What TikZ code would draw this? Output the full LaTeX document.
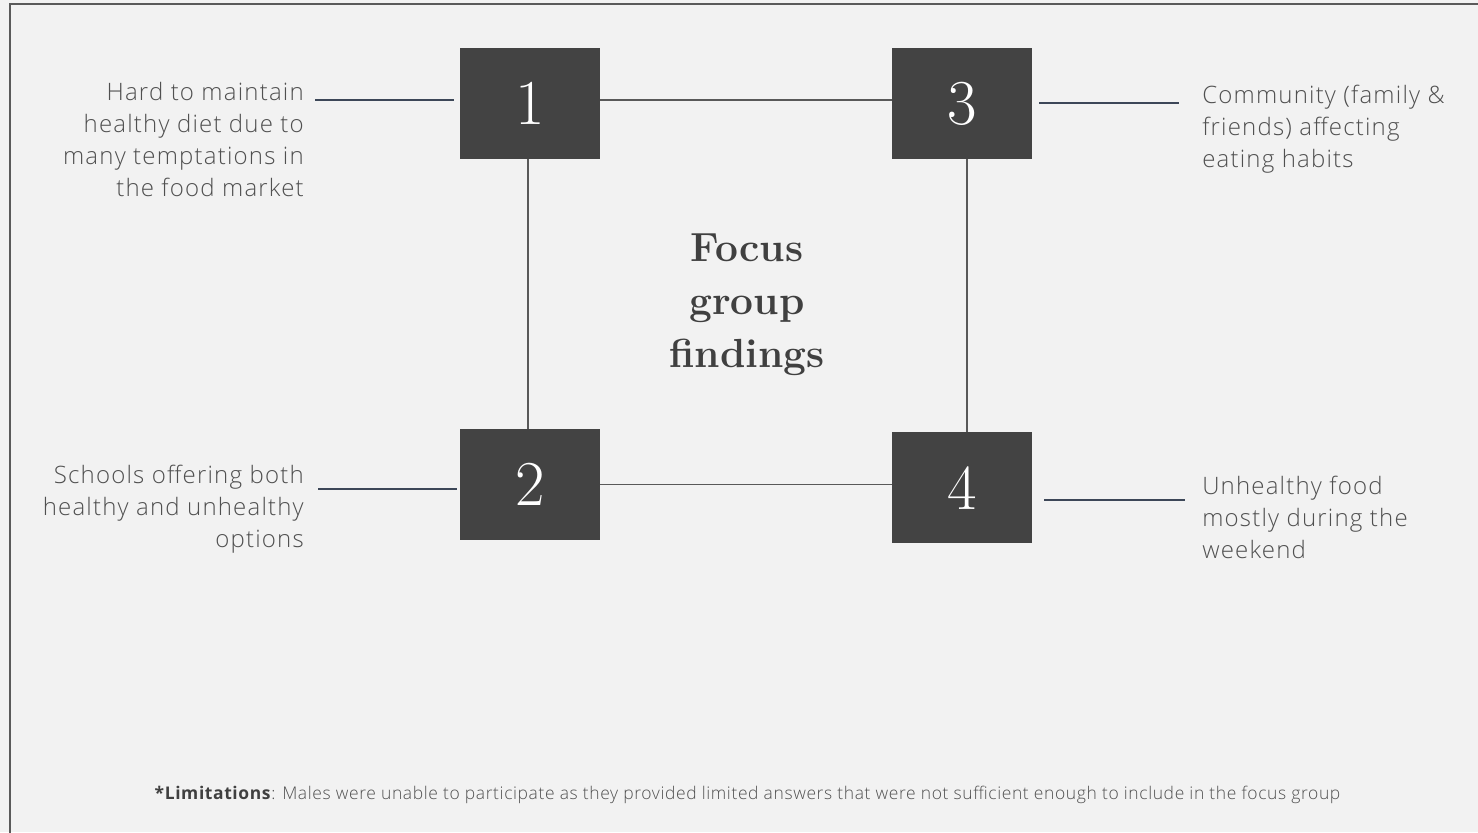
\documentclass[tikz,border=0pt]{standalone}
\usepackage{fontspec}
\setmainfont{Open Sans}[UprightFont={* Light}, BoldFont={* Bold}]
\newfontfamily\seriffont{Latin Modern Roman}
\definecolor{bgcol}{HTML}{F2F2F2}
\definecolor{boxgray}{HTML}{434343}
\definecolor{linkgray}{HTML}{595959}
\definecolor{sidecol}{HTML}{3D4758}
\definecolor{textgray}{HTML}{505050}
\definecolor{headgray}{HTML}{404040}
\definecolor{framecol}{HTML}{5A5A5A}
\newcommand\mynumfont{\seriffont\fontsize{48}{48}\selectfont}
\newcommand\mynotefont{\addfontfeatures{LetterSpace=5}\fontsize{18}{24}\selectfont}
\newcommand\myheadfont{\seriffont\bfseries\fontsize{30.5}{39.75}\selectfont}
\newcommand\myfootfont{\addfontfeatures{LetterSpace=3.5}\fontsize{13.1}{16}\selectfont}
\begin{document}
\begin{tikzpicture}[x=0.75pt,y=-0.75pt,
  numbox/.style={fill=boxgray, minimum width=105pt, minimum height=83.25pt, inner sep=0pt, text=white, font=\mynumfont},
  link/.style={draw=linkgray, line width=1.1pt},
  side/.style={draw=sidecol, line width=1.5pt},
  note/.style={text=textgray, font=\mynotefont, inner sep=0pt},
]
\clip (0,0) rectangle (1478,832);
\fill[bgcol] (0,0) rectangle (1478,832);
\draw[framecol, line width=1.5pt] (10,850) -- (10,3.5) -- (1500,3.5);

% boxes
\node[numbox] (b1) at (530,103.5) {1};
\node[numbox] (b3) at (962,103.5) {3};
\node[numbox] (b2) at (530,484.5) {2};
\node[numbox] (b4) at (962,487.7) {4};

% connectors between boxes
\draw[link] ([yshift=2.6pt]b1.east) -- ([yshift=2.6pt]b3.west);
\draw[link] ([xshift=-1.5pt]b1.south) -- ([xshift=-1.5pt]b2.north);
\draw[link] ([xshift=3.75pt]b3.south) -- ([xshift=3.75pt]b4.north);
\draw[link] (b2.east) -- (b2.east -| b4.west);

% center heading
\node[text=headgray, font=\myheadfont, align=center, inner sep=0pt, anchor=north] (head) at (747,234) {Focus\\group\\findings};

% texts
\node[note, anchor=north east, align=right] (t1) at (304,82) {Hard to maintain\\healthy diet due to\\many temptations in\\the food market};
\node[note, anchor=north east, align=right] (t2) at (304,465) {Schools offering both\\healthy and unhealthy\\options};
\node[note, anchor=north west, align=left] (t3) at (1202,84.5) {Community (family \&\\friends) affecting\\eating habits};
\node[note, anchor=north west, align=left] (t4) at (1202,476) {Unhealthy food\\mostly during the\\weekend};

% side lines
\coordinate (s1a) at (315,100);
\coordinate (s1b) at (454,100);
\coordinate (s2a) at (318,488.5);
\coordinate (s2b) at (457,488.5);
\coordinate (s3a) at (1039,102.5);
\coordinate (s3b) at (1179,102.5);
\coordinate (s4a) at (1044,499.5);
\coordinate (s4b) at (1185,499.5);
\draw[side] (s1a) -- (s1b);
\draw[side] (s2a) -- (s2b);
\draw[side] (s3a) -- (s3b);
\draw[side] (s4a) -- (s4b);

% footnote
\node[text=textgray, font=\myfootfont, inner sep=0pt, anchor=base] (foot) at (747.5,799) {\textcolor{headgray}{\textbf{*Limitations}}: Males were unable to participate as they provided limited answers that were not sufficient enough to include in the focus group};
\end{tikzpicture}
\end{document}
